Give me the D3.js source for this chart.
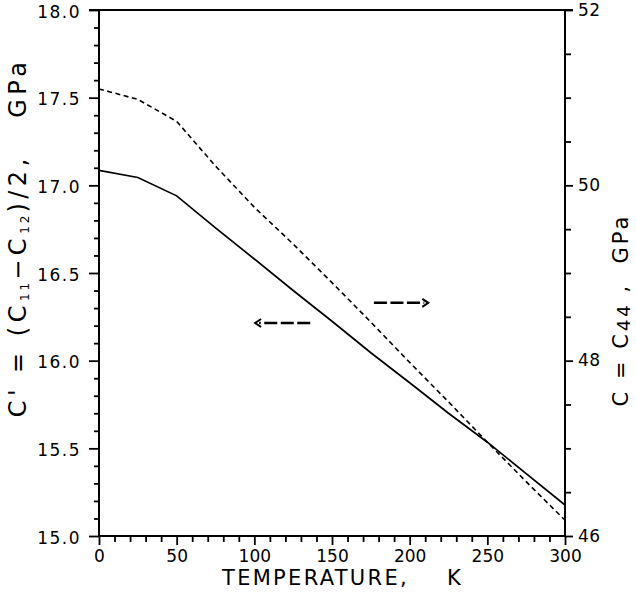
<!DOCTYPE html>
<html>
<head>
<meta charset="utf-8">
<script src="https://cdn.jsdelivr.net/npm/d3@7/dist/d3.min.js"></script>
<style>
  html, body { margin: 0; padding: 0; background: #fff; }
  svg { display: block; }
  text { font-family: "DejaVu Sans", sans-serif; fill: #000; }
</style>
</head>
<body>
<svg id="chart" width="636" height="592"></svg>
<script>
// ---- data ----
const temperature = [0, 25, 50, 75, 100, 125, 150, 175, 200, 225, 250, 275, 300];
const cPrime = [17.085, 17.045, 16.94, 16.757, 16.58, 16.40, 16.225, 16.045, 15.874, 15.70, 15.535, 15.356, 15.177];
const c44 = [51.10, 50.98, 50.73, 50.22, 49.75, 49.33, 48.89, 48.44, 47.98, 47.53, 47.07, 46.62, 46.18];
const xMajorTicks = [0, 50, 100, 150, 200, 250, 300];
const leftMajorTicks = [15.0, 15.5, 16.0, 16.5, 17.0, 17.5, 18.0];
const rightMajorTicks = [46, 48, 50, 52];

// ---- layout ----
const svg = d3.select("#chart");
const L = 99, R = 565, T = 10, B = 536;
const x = d3.scaleLinear().domain([0, 300]).range([L, R]);
const yL = d3.scaleLinear().domain([15, 18]).range([B, T]);
const yR = d3.scaleLinear().domain([46, 52]).range([B, T]);

const xMinor = d3.range(0, 301, 10).filter(v => v % 50 !== 0);
const lMinor = d3.range(150, 181, 1).map(v => v / 10).filter(v => Math.round(v * 10) % 5 !== 0);
const rMinor = d3.range(46, 52.01, 0.5).filter(v => v % 2 !== 0);

function styleAxis(g) {
  g.select(".domain").remove();
  g.selectAll(".tick line").attr("stroke", "#000").attr("stroke-width", 1.8);
  g.selectAll(".tick text").attr("font-size", 17).style("font-family", "DejaVu Sans, sans-serif").attr("fill", "#000");
}

// bottom axis
svg.append("g").attr("transform", `translate(0,${B})`)
  .call(d3.axisBottom(x).tickValues(xMinor).tickSize(6).tickFormat(""))
  .call(styleAxis);
svg.append("g").attr("transform", `translate(0,${B})`)
  .call(d3.axisBottom(x).tickValues(xMajorTicks).tickSize(9).tickPadding(5).tickFormat(d3.format("d")))
  .call(styleAxis);

// left axis
svg.append("g").attr("transform", `translate(${L},0)`)
  .call(d3.axisLeft(yL).tickValues(lMinor).tickSize(5).tickFormat(""))
  .call(styleAxis);
const gl = svg.append("g").attr("transform", `translate(${L},0)`)
  .call(d3.axisLeft(yL).tickValues(leftMajorTicks).tickSize(10).tickPadding(8).tickFormat(d3.format(".1f")))
  .call(styleAxis);
gl.selectAll(".tick text").attr("letter-spacing", 1.5).attr("dy", "0.42em");

// right axis
svg.append("g").attr("transform", `translate(${R},0)`)
  .call(d3.axisRight(yR).tickValues(rMinor).tickSize(6).tickFormat(""))
  .call(styleAxis);
const gr = svg.append("g").attr("transform", `translate(${R},0)`)
  .call(d3.axisRight(yR).tickValues(rightMajorTicks).tickSize(8).tickPadding(5).tickFormat(d3.format("d")))
  .call(styleAxis);
gr.selectAll(".tick text").attr("letter-spacing", 0.5).attr("dy", "0.3em");

// frame
const frame = svg.append("g").attr("stroke", "#000").attr("stroke-width", 2).attr("fill", "none");
frame.append("line").attr("x1", L).attr("x2", L).attr("y1", T).attr("y2", B);
frame.append("line").attr("x1", R).attr("x2", R).attr("y1", T).attr("y2", B);
frame.append("line").attr("x1", L).attr("x2", R).attr("y1", B).attr("y2", B);
frame.append("line").attr("x1", L - 10).attr("x2", R + 8).attr("y1", T).attr("y2", T);

// curves
const solid = d3.line().x((d, i) => x(temperature[i])).y(d => yL(d));
const dashed = d3.line().x((d, i) => x(temperature[i])).y(d => yR(d));
svg.append("path").datum(cPrime).attr("d", solid)
  .attr("fill", "none").attr("stroke", "#000").attr("stroke-width", 1.7);
svg.append("path").datum(c44).attr("d", dashed)
  .attr("fill", "none").attr("stroke", "#000").attr("stroke-width", 1.6)
  .attr("stroke-dasharray", "5,3.5");

// arrows (annotation)
function arrow(t1, t2, yPix, dir) {
  const xa = x(t1), xb = x(t2);
  const g = svg.append("g").attr("stroke", "#000").attr("stroke-width", 2.6).attr("fill", "none");
  g.append("line").attr("x1", xa).attr("x2", xb - dir * 4).attr("y1", yPix).attr("y2", yPix)
    .attr("stroke-dasharray", "13,3.5");
  g.append("path")
    .attr("d", `M${xb - dir * 6},${yPix - 4} L${xb},${yPix} L${xb - dir * 6},${yPix + 4}`)
    .attr("stroke-width", 2);
}
arrow(136, 100.5, yL(16.215), -1);
arrow(177, 212, yR(48.66), 1);

// x axis title
svg.append("text").attr("x", 222).attr("y", 585)
  .attr("font-size", 21).attr("letter-spacing", 2.3)
  .text("TEMPERATURE,");
svg.append("text").attr("x", 447).attr("y", 585)
  .attr("font-size", 21).text("K");

// left axis title
const lt = svg.append("text")
  .attr("transform", `translate(26,${(53 + 422) / 2}) rotate(-90)`)
  .attr("text-anchor", "middle").attr("font-size", 24).attr("letter-spacing", 4.5);
lt.append("tspan").text("C' = (C");
lt.append("tspan").attr("font-size", 12).attr("dy", 3).attr("letter-spacing", 3).text("11");
lt.append("tspan").attr("dy", -3).text("\u2212C");
lt.append("tspan").attr("font-size", 12).attr("dy", 3).attr("letter-spacing", 3).text("12");
lt.append("tspan").attr("dy", -3).text(")/2,\u00a0\u00a0 GPa");

// right axis title
const rt = svg.append("text")
  .attr("transform", `translate(628,${(213 + 407) / 2}) rotate(-90)`)
  .attr("text-anchor", "middle").attr("font-size", 21).attr("letter-spacing", 3);
rt.append("tspan").text("C = C");
rt.append("tspan").attr("font-size", 18).attr("dy", 2).text("44");
rt.append("tspan").attr("dy", -2).text(" ,\u00a0\u00a0GPa");
</script>
</body>
</html>
